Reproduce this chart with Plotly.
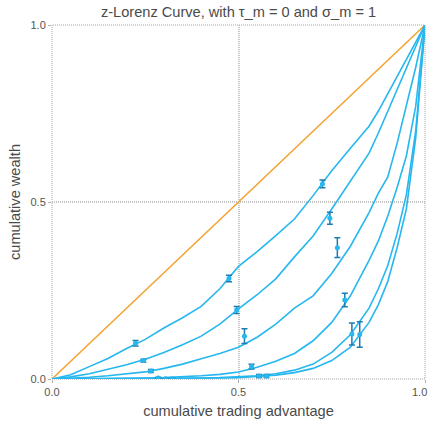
import plotly.graph_objects as go

# Shared x grid for the Lorenz curves (cumulative trading advantage)
x_grid = [0, 0.05, 0.1, 0.15, 0.2, 0.25, 0.3, 0.35, 0.4, 0.45, 0.5, 0.55, 0.6,
          0.65, 0.7, 0.75, 0.8, 0.85, 0.875, 0.9, 0.925, 0.95, 0.975, 1.0]

# Cumulative wealth for each simulated curve (top to bottom)
curve_1 = [0, 0.012, 0.035, 0.058, 0.086, 0.112, 0.144, 0.173, 0.205, 0.255, 0.318, 0.36,
           0.405, 0.452, 0.518, 0.588, 0.652, 0.714, 0.757, 0.805, 0.853, 0.902, 0.951, 1.0]
curve_2 = [0, 0.006, 0.015, 0.027, 0.040, 0.056, 0.075, 0.097, 0.121, 0.155, 0.198, 0.238,
           0.283, 0.345, 0.404, 0.48, 0.558, 0.638, 0.695, 0.755, 0.815, 0.877, 0.938, 1.0]
curve_3 = [0, 0.002, 0.005, 0.009, 0.014, 0.02, 0.03, 0.042, 0.057, 0.072, 0.09, 0.118,
           0.155, 0.2, 0.235, 0.298, 0.375, 0.47, 0.525, 0.57, 0.665, 0.77, 0.88, 1.0]
curve_4 = [0, 0.0003, 0.0008, 0.0015, 0.002, 0.003, 0.004, 0.006, 0.009, 0.013, 0.02, 0.033,
           0.05, 0.072, 0.108, 0.16, 0.235, 0.335, 0.39, 0.46, 0.54, 0.63, 0.77, 1.0]
curve_5 = [0, 0.0001, 0.0002, 0.0004, 0.0006, 0.0008, 0.001, 0.002, 0.003, 0.004, 0.006, 0.009,
           0.015, 0.025, 0.042, 0.075, 0.125, 0.2, 0.255, 0.32, 0.41, 0.52, 0.7, 1.0]
curve_6 = [0, 0.0001, 0.0001, 0.0002, 0.0004, 0.0006, 0.0008, 0.0012, 0.002, 0.003, 0.004, 0.007,
           0.011, 0.018, 0.03, 0.052, 0.09, 0.16, 0.21, 0.275, 0.37, 0.48, 0.68, 1.0]
curves = [curve_1, curve_2, curve_3, curve_4, curve_5, curve_6]

# Sampled means with error bars along each curve
eb_x = [[0.224, 0.4745, 0.725], [0.245, 0.495, 0.745], [0.265, 0.516, 0.765],
        [0.285, 0.535, 0.785], [0.304, 0.555, 0.804], [0.322, 0.575, 0.825]]
eb_y = [[0.101, 0.284, 0.551], [0.052, 0.195, 0.454], [0.0226, 0.121, 0.371],
        [0.003, 0.035, 0.223], [0.001, 0.0085, 0.127], [0.001, 0.0085, 0.126]]
eb_err = [[0.008, 0.009, 0.011], [0.004, 0.010, 0.017], [0.004, 0.021, 0.028],
          [0.002, 0.007, 0.019], [0.001, 0.004, 0.031], [0.001, 0.004, 0.036]]

# Line of perfect equality
eq_x = [0, 1]
eq_y = [0, 1]

# Axis ticks
tick_vals = [0, 0.5, 1]
tick_text = ["0.0", "0.5", "1.0"]

CURVE_COLOR = "#26b7ef"
BAR_COLOR = "#1f7bb0"
GRID_COLOR = "#c4c4c4"
TEXT_COLOR = "#4a4a4a"
TICK_COLOR = "#555555"
FONT = "Liberation Sans, Arial, sans-serif"

fig = go.Figure()

fig.add_trace(go.Scatter(x=eq_x, y=eq_y, mode="lines",
                         line=dict(color="#f2a431", width=1.5), showlegend=False))

for ys in curves:
    fig.add_trace(go.Scatter(x=x_grid, y=ys, mode="lines",
                             line=dict(color=CURVE_COLOR, width=1.6), showlegend=False))

for xs, ys, es in zip(eb_x, eb_y, eb_err):
    fig.add_trace(go.Scatter(
        x=xs, y=ys, mode="markers",
        marker=dict(color=CURVE_COLOR, size=5, symbol="circle"),
        error_y=dict(type="data", array=es, visible=True, color=BAR_COLOR,
                     thickness=1.5, width=3),
        showlegend=False))

# Dotted frame around the plotting area
fig.add_shape(type="rect", xref="paper", yref="paper", x0=0, y0=0, x1=1, y1=1,
              line=dict(color=GRID_COLOR, width=1.5, dash="1px,1px"), layer="below")

axis_common = dict(
    range=[0, 1], tickvals=tick_vals,
    showgrid=True, gridcolor=GRID_COLOR, gridwidth=1.5, griddash="1px,1px",
    zeroline=False, showline=False,
    ticks="outside", ticklen=3, tickcolor="#b0b0b0", tickwidth=1,
    tickfont=dict(family=FONT, size=11, color=TICK_COLOR),
    automargin=False,
    fixedrange=True,
)

# The last x tick label sits at the right edge; pin it right-aligned so it stays inside
x_ticktext = tick_text[:-1] + [""]
fig.add_annotation(text=tick_text[-1], xref="paper", yref="paper", x=1, y=0,
                   xanchor="right", yanchor="top", xshift=4, yshift=-5,
                   showarrow=False, font=dict(family=FONT, size=11, color=TICK_COLOR))

fig.update_layout(
    width=430, height=422,
    margin=dict(l=52, r=5, t=25, b=43),
    paper_bgcolor="white", plot_bgcolor="white",
    font=dict(family=FONT, color=TEXT_COLOR),
    title=dict(text="z-Lorenz Curve, with τ_m = 0 and σ_m = 1",
               x=0.5, xref="paper", xanchor="center",
               y=1 - 12 / 422, yref="container", yanchor="middle",
               font=dict(family=FONT, size=14.6, color=TEXT_COLOR)),
    xaxis=dict(axis_common, ticktext=x_ticktext,
               title=dict(text="cumulative trading advantage", standoff=8,
                          font=dict(family=FONT, size=14.6, color=TEXT_COLOR))),
    yaxis=dict(axis_common, ticktext=tick_text,
               title=dict(text="cumulative wealth", standoff=6,
                          font=dict(family=FONT, size=14.6, color=TEXT_COLOR))),
)

fig.write_html("out.html")
